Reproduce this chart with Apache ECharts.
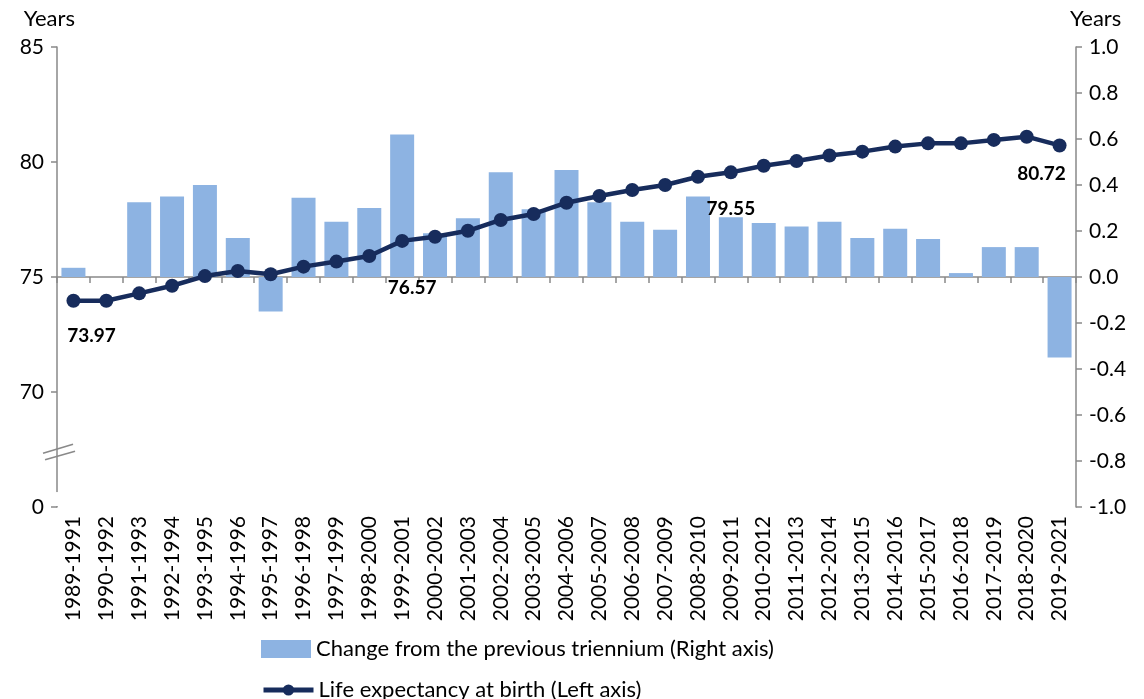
<!DOCTYPE html>
<html>
<head>
<meta charset="utf-8">
<script src="https://cdn.jsdelivr.net/npm/echarts@6/dist/echarts.min.js"></script>
<style>
  html, body { margin: 0; padding: 0; background: #fff; }
  #main { width: 1144px; height: 699px; }
</style>
</head>
<body>
<div id="main"></div>
<script>
var periods = ['1989-1991', '1990-1992', '1991-1993', '1992-1994', '1993-1995', '1994-1996',
    '1995-1997', '1996-1998', '1997-1999', '1998-2000', '1999-2001', '2000-2002', '2001-2003',
    '2002-2004', '2003-2005', '2004-2006', '2005-2007', '2006-2008', '2007-2009', '2008-2010',
    '2009-2011', '2010-2012', '2011-2013', '2012-2014', '2013-2015', '2014-2016', '2015-2017',
    '2016-2018', '2017-2019', '2018-2020', '2019-2021'];

// life expectancy at birth (left axis)
var lifeExp = [73.97, 73.97, 74.29, 74.62, 75.04, 75.26, 75.12, 75.45, 75.67, 75.91, 76.57,
    76.75, 77.01, 77.48, 77.74, 78.23, 78.52, 78.78, 79.0, 79.36, 79.55, 79.84, 80.04,
    80.28, 80.45, 80.67, 80.81, 80.81, 80.96, 81.10, 80.72];

// change from previous triennium (right axis)
var change = [0.04, 0, 0.325, 0.35, 0.40, 0.17, -0.15, 0.345, 0.24, 0.30, 0.62,
    0.19, 0.255, 0.455, 0.295, 0.465, 0.325, 0.24, 0.205, 0.35, 0.26, 0.235, 0.22,
    0.24, 0.17, 0.21, 0.165, 0.017, 0.13, 0.13, -0.35];

// which points get a value label, and how it is nudged
var labelled = [0, 10, 20, 30];
var labelOffsets = [[18, 14], [10, 25], [0, 15], [-18, 7]];

var barName = 'Change from the previous triennium (Right axis)';
var lineName = 'Life expectancy at birth (Left axis)';

var font = 'Lato';
var axisGrey = '#898989';
var navy = '#172C5C';

var lineData = lifeExp.map(function (v, i) {
    var k = labelled.indexOf(i);
    if (k < 0) return v;
    return {
        value: v,
        label: {
            show: true,
            position: 'bottom',
            offset: labelOffsets[k],
            formatter: function (p) { return p.value.toFixed(2); },
            fontFamily: font,
            fontWeight: 'bold',
            fontSize: 19,
            color: '#000'
        }
    };
});

var legendText = { fontFamily: font, fontSize: 22, color: '#000' };

var chart = echarts.init(document.getElementById('main'));
var option = {
    animation: false,
    textStyle: { fontFamily: font },
    grid: { left: 57, right: 68, top: 47, bottom: 192 },
    legend: [{
        left: 256,
        top: 633,
        itemWidth: 50,
        itemHeight: 18,
        textStyle: legendText,
        data: [{ name: barName, icon: 'rect' }]
    }, {
        left: 256,
        top: 674,
        itemWidth: 50,
        itemHeight: 14,
        textStyle: legendText,
        lineStyle: { width: 5 },
        data: [{ name: lineName }]
    }],
    xAxis: {
        type: 'category',
        data: periods,
        boundaryGap: true,
        axisLine: { lineStyle: { color: axisGrey, width: 1.5 } },
        axisTick: { show: true, length: 6, lineStyle: { color: axisGrey, width: 1.5 } },
        axisLabel: {
            rotate: 90,
            interval: 0,
            margin: 9,
            fontFamily: font,
            fontSize: 21,
            color: '#000'
        }
    },
    yAxis: [{
        type: 'value',
        min: 65,
        max: 85,
        interval: 5,
        name: 'Years',
        nameLocation: 'end',
        nameGap: 17,
        nameTextStyle: { fontFamily: font, fontSize: 22, color: '#000', align: 'right', padding: [0, -18, 0, 0] },
        axisLine: { show: true, lineStyle: { color: axisGrey, width: 1.5 } },
        axisTick: { show: true, length: 6, lineStyle: { color: axisGrey, width: 1.5 } },
        splitLine: { show: false },
        axisLabel: {
            margin: 13,
            fontFamily: font,
            fontSize: 21,
            color: '#000',
            formatter: function (v) { return v === 65 ? '0' : String(v); }
        }
    }, {
        type: 'value',
        min: -1,
        max: 1,
        interval: 0.2,
        name: 'Years',
        nameLocation: 'end',
        nameGap: 17,
        nameTextStyle: { fontFamily: font, fontSize: 22, color: '#000', align: 'left', padding: [0, 0, 0, -6] },
        axisLine: { show: true, lineStyle: { color: axisGrey, width: 1.5 } },
        axisTick: { show: true, length: 6, lineStyle: { color: axisGrey, width: 1.5 } },
        splitLine: { show: false },
        axisLabel: {
            margin: 13,
            fontFamily: font,
            fontSize: 21,
            color: '#000',
            formatter: function (v) { return v.toFixed(1); }
        }
    }],
    series: [{
        name: barName,
        type: 'bar',
        yAxisIndex: 1,
        data: change,
        barWidth: 24,
        itemStyle: { color: '#8DB3E2' }
    }, {
        name: lineName,
        type: 'line',
        yAxisIndex: 0,
        data: lineData,
        symbol: 'circle',
        symbolSize: 14,
        lineStyle: { color: navy, width: 4.5 },
        itemStyle: { color: navy },
        z: 5
    }]
};
chart.setOption(option);

// axis break marks on the left axis
var ax = chart.convertToPixel({ xAxisIndex: 0 }, periods[0]) - 16.4;
var yBreak = chart.convertToPixel({ yAxisIndex: 0 }, 67.4);
var yGapTop = chart.convertToPixel({ yAxisIndex: 0 }, 65.65);
var yBottom = chart.convertToPixel({ yAxisIndex: 0 }, 65);
chart.setOption({
    graphic: [{
        type: 'rect',
        shape: { x: ax - 8, y: yGapTop, width: 10, height: yBottom - yGapTop - 1 },
        style: { fill: '#fff' },
        z: 100
    }, {
        type: 'line',
        shape: { x1: ax - 14, y1: yBreak + 1.5, x2: ax + 16, y2: yBreak - 7.5 },
        style: { stroke: axisGrey, lineWidth: 1.5 },
        z: 100
    }, {
        type: 'line',
        shape: { x1: ax - 12, y1: yBreak + 8, x2: ax + 18, y2: yBreak - 0.5 },
        style: { stroke: axisGrey, lineWidth: 1.5 },
        z: 100
    }]
});
</script>
</body>
</html>
